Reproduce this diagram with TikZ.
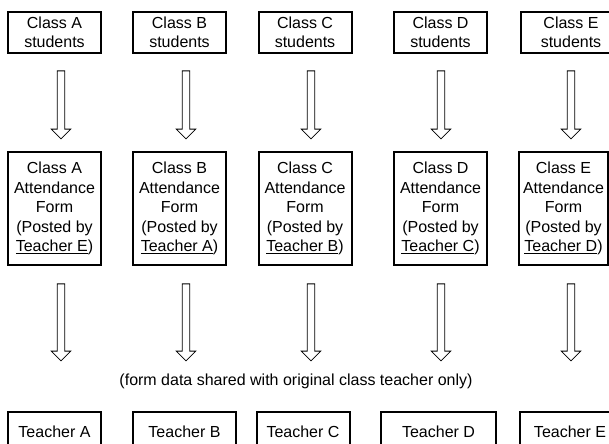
\documentclass[tikz,border=0pt]{standalone}
\usepackage{fontspec}
\setmainfont{Liberation Sans}
\usetikzlibrary{shapes.arrows}
\usetikzlibrary{positioning}
\tikzset{every node/.style={font=\fontsize{12}{14.6}\selectfont},
         box/.style={draw,line width=1.5pt,align=center,inner sep=0pt,
                     minimum width=69.75pt},
         classbox/.style={box,minimum height=30.75pt},
         formbox/.style={box,minimum height=84.75pt},
         teacherbox/.style={box,minimum height=30pt},
         downarrow/.style={draw,line width=0.6pt,single arrow,shape border rotate=270,
                           inner sep=2.5pt,single arrow head extend=4.5pt},
         uparrow/.style={downarrow,minimum height=51pt},
         lowarrow/.style={downarrow,minimum height=57.75pt},
         }

\begin{document}
\begin{tikzpicture}[x=0.75pt,y=-0.75pt]
\clip (0,0) rectangle (609,443);
% students
\node[classbox] (stA) at (54.5,32.5) {Class A\\students};
\node[classbox] (stB) at (179.5,32.5) {Class B\\students};
\node[classbox] (stC) at (305,32.5) {Class C\\students};
\node[classbox] (stD) at (440.5,32.5) {Class D\\students};
\node[classbox,minimum width=75pt] (stE) at (571,32.5) {Class E\\students};
% attendance forms
\node[formbox] (fmA) at (54.5,208.5) {Class A\\Attendance\\Form\\(Posted by\\\underline{Teacher E})};
\node[formbox] (fmB) at (179.5,208.5) {Class B\\Attendance\\Form\\(Posted by\\\underline{Teacher A})};
\node[formbox] (fmC) at (305,208.5) {Class C\\Attendance\\Form\\(Posted by\\\underline{Teacher B})};
\node[formbox] (fmD) at (440.5,208.5) {Class D\\Attendance\\Form\\(Posted by\\\underline{Teacher C})};
\node[formbox,minimum width=66.75pt] (fmE) at (563.5,208.5) {Class E\\Attendance\\Form\\(Posted by\\\underline{Teacher D})};
% arrows
\node[uparrow] (upA) at (61,103) {};
\node[uparrow] (upB) at (186,103) {};
\node[uparrow] (upC) at (311,103) {};
\node[uparrow] (upD) at (441,103) {};
\node[uparrow] (upE) at (571,103) {};
\node[lowarrow] (loA) at (61,320.5) {};
\node[lowarrow] (loB) at (186,320.5) {};
\node[lowarrow] (loC) at (311,320.5) {};
\node[lowarrow] (loD) at (441,320.5) {};
\node[lowarrow] (loE) at (571,320.5) {};
\node (note) at (296,381) {(form data shared with original class teacher only)};
% teachers
\node[teacherbox] (tcA) at (54.5,432) {Teacher A};
\node[teacherbox,minimum width=77.25pt] (tcB) at (184.5,432) {Teacher B};
\node[teacherbox] (tcC) at (303,432) {Teacher C};
\node[teacherbox,minimum width=86.25pt] (tcD) at (438.5,432) {Teacher D};
\node[teacherbox,minimum width=75pt] (tcE) at (570,432) {Teacher E};
\end{tikzpicture}
\end{document}
